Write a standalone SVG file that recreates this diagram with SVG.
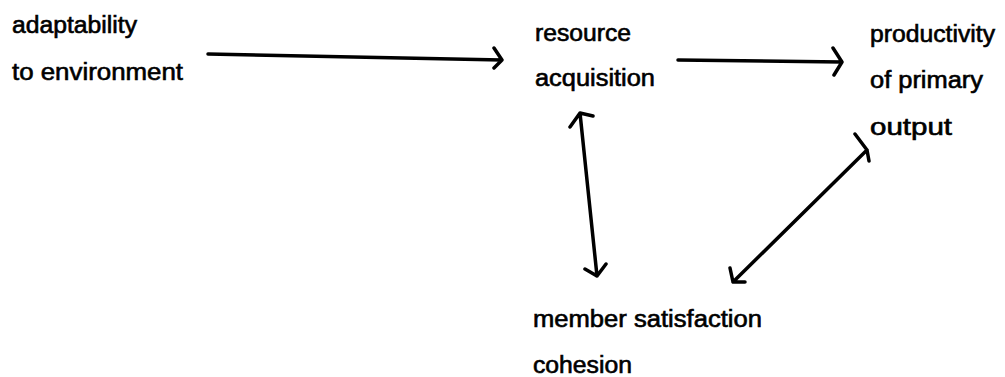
<svg xmlns="http://www.w3.org/2000/svg" width="1005" height="377" viewBox="0 0 1005 377">
<style>
text{font-family:"Liberation Sans",Arial,sans-serif;font-size:23px;fill:#000;stroke:#000;stroke-width:0.6;}
.ln{stroke:#000;stroke-width:3.5;fill:none;stroke-linecap:round;stroke-linejoin:round;}
</style>
<rect width="1005" height="377" fill="#fff"/>
<g id="adaptability">
<text x="12" y="33" textLength="125" lengthAdjust="spacingAndGlyphs">adaptability</text>
<text x="12" y="80" textLength="171" lengthAdjust="spacingAndGlyphs">to environment</text>
</g>
<g id="resource">
<text x="535" y="41" textLength="96" lengthAdjust="spacingAndGlyphs">resource</text>
<text x="535" y="86" textLength="120" lengthAdjust="spacingAndGlyphs">acquisition</text>
</g>
<g id="productivity">
<text x="870" y="42" textLength="125" lengthAdjust="spacingAndGlyphs">productivity</text>
<text x="870" y="88" textLength="113" lengthAdjust="spacingAndGlyphs">of primary</text>
<text x="870" y="135" textLength="82" lengthAdjust="spacingAndGlyphs">output</text>
</g>
<g id="member">
<text x="533" y="327" textLength="229" lengthAdjust="spacingAndGlyphs">member satisfaction</text>
<text x="533" y="373" textLength="99" lengthAdjust="spacingAndGlyphs">cohesion</text>
</g>
<g id="connectors">
<path class="ln" d="M208 54 L502 60 M494 48 L502 60 L494 68"/>
<path class="ln" d="M678 60 L842 62 M833 48 L842 62 L834 75"/>
<path class="ln" d="M580 113 L597 276 M570 127 L580 113 L593 116 M585 269 L597 276 L606 264"/>
<path class="ln" d="M867 150 L733 282 M855 134 L867 150 L869 161 M730 268 L733 282 L745 282"/>
</g>
</svg>
